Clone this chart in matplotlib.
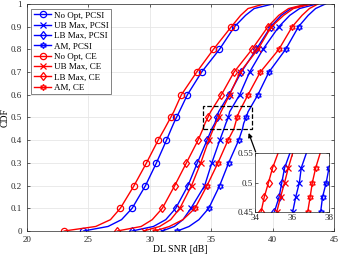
import numpy as np
import matplotlib
matplotlib.use('Agg')
import matplotlib.pyplot as plt
from matplotlib.patches import Rectangle

plt.rcParams['font.family'] = ['Liberation Serif', 'DejaVu Serif']
plt.rcParams['mathtext.fontset'] = 'stix'

fs = 6.5

# CDF levels at which the curves were read
cdf = [0, 0.02, 0.05, 0.1, 0.2, 0.3, 0.4, 0.45, 0.475, 0.5, 0.525, 0.6, 0.7, 0.8, 0.9, 0.95, 0.98, 1.0]

# DL SNR [dB] of each curve at those levels
noopt_pcsi = [24.6, 26.6, 27.7, 28.56, 29.65, 30.54, 31.36, 31.75, 31.95, 32.17, 32.4, 33.06, 34.22, 35.67, 36.9, 37.8, 38.5, 40.0]
ubmax_pcsi = [31.0, 32.0, 32.7, 33.35, 34.47, 35.05, 35.7, 36.04, 36.2, 36.4, 36.5, 37.32, 38.13, 39.21, 40.51, 41.4, 42.2, 43.6]
lbmax_pcsi = [28.55, 30.3, 31.3, 32.11, 33.11, 33.87, 34.66, 35.05, 35.3, 35.45, 35.6, 36.45, 37.45, 38.67, 39.85, 40.7, 41.5, 43.0]
am_pcsi = [32.25, 33.2, 34.0, 34.8, 35.69, 36.42, 37.24, 37.55, 37.65, 37.85, 38.0, 38.8, 39.7, 41.06, 42.11, 42.9, 43.5, 44.3]
noopt_ce = [23.03, 25.6, 26.8, 27.6, 28.72, 29.73, 30.68, 31.2, 31.45, 31.7, 31.95, 32.57, 33.82, 35.18, 36.64, 37.4, 38.0, 39.3]
ubmax_ce = [29.5, 30.8, 31.7, 32.45, 33.4, 34.15, 34.8, 35.18, 35.38, 35.6, 35.8, 36.5, 37.35, 38.8, 39.9, 40.9, 41.7, 43.2]
lbmax_ce = [27.35, 29.3, 30.2, 31.02, 32.03, 32.98, 33.93, 34.33, 34.5, 34.73, 34.95, 35.83, 36.86, 38.32, 39.62, 40.5, 41.3, 42.8]
am_ce = [30.4, 31.6, 32.7, 33.68, 34.66, 35.55, 36.37, 36.85, 36.98, 37.1, 37.28, 38.0, 39.0, 40.51, 41.6, 42.4, 43.0, 43.7]

labels = ['No Opt, PCSI', 'UB Max, PCSI', 'LB Max, PCSI', 'AM, PCSI',
          'No Opt, CE', 'UB Max, CE', 'LB Max, CE', 'AM, CE']
series = [noopt_pcsi, ubmax_pcsi, lbmax_pcsi, am_pcsi,
          noopt_ce, ubmax_ce, lbmax_ce, am_ce]
colors = ['b'] * 4 + ['r'] * 4
hexagram = (6, 1, 0)
markers = ['o', 'x', 'd', hexagram] * 2

main_marks = [i for i, c in enumerate(cdf) if c in (0, 0.1, 0.2, 0.3, 0.4, 0.5, 0.6, 0.7, 0.8, 0.9)]
inset_marks = [i for i, c in enumerate(cdf) if c in (0.45, 0.475, 0.5, 0.525)]

fig = plt.figure(figsize=(3.42, 2.59), dpi=100)
ax = fig.add_axes([0.0789, 0.1081, 0.8977, 0.8765])

for s, lab, col, m in zip(series, labels, colors, markers):
    ax.plot(s, cdf, color=col, lw=1.0, marker=m, ms=4.5, mfc='none', mew=0.9,
            markevery=main_marks, label=lab)

ax.set_xlim(20, 45)
ax.set_ylim(0, 1)
ax.set_xticks([20, 25, 30, 35, 40, 45])
ax.set_yticks(np.arange(0, 1.01, 0.1))
ax.set_yticklabels(['0', '0.1', '0.2', '0.3', '0.4', '0.5', '0.6', '0.7', '0.8', '0.9', '1'])
ax.grid(True, color='#e6e6e6', lw=0.6)
ax.set_axisbelow(True)
ax.tick_params(direction='in', top=True, right=True, labelsize=fs, colors='#262626',
               length=2.5, width=0.5)
ax.tick_params(axis='x', pad=3.5)
ax.tick_params(axis='y', pad=3.5)
for sp in ax.spines.values():
    sp.set_color('#262626')
    sp.set_linewidth(0.5)
ax.set_xlabel('DL SNR [dB]', fontsize=7, labelpad=0.5)
ax.set_ylabel('CDF', fontsize=7, labelpad=1)

leg = ax.legend(loc='upper left', fontsize=fs, frameon=True, fancybox=False,
                borderpad=0.3, labelspacing=0.22, handlelength=1.9, handletextpad=0.25,
                borderaxespad=0.5)
leg.get_frame().set_edgecolor('#262626')
leg.get_frame().set_linewidth(0.5)

# zoom box and arrow
ax.add_patch(Rectangle((34.3, 0.45), 4.0, 0.1, fill=False, ls='--', lw=0.9, ec='black', zorder=5))
ax.annotate('', xy=(38.05, 0.432), xytext=(38.62, 0.348),
            arrowprops=dict(arrowstyle='-|>', color='black', lw=0.9,
                            mutation_scale=6, shrinkA=0, shrinkB=0))

axin = fig.add_axes([0.7456, 0.1826, 0.2164, 0.2255])
for s, col, m in zip(series, colors, markers):
    axin.plot(s, cdf, color=col, lw=1.0, marker=m, ms=4.5, mfc='none', mew=0.9,
              markevery=inset_marks)
axin.set_xlim(34, 38)
axin.set_ylim(0.45, 0.55)
axin.set_xticks([34, 36, 38])
axin.set_yticks([0.45, 0.5, 0.55])
axin.set_yticklabels(['0.45', '0.5', '0.55'])
axin.tick_params(direction='in', top=True, right=True, labelsize=fs, colors='#262626',
                 length=2, width=0.5, pad=1.5)
for sp in axin.spines.values():
    sp.set_color('#262626')
    sp.set_linewidth(0.5)

fig.savefig('out.png', dpi=100)
